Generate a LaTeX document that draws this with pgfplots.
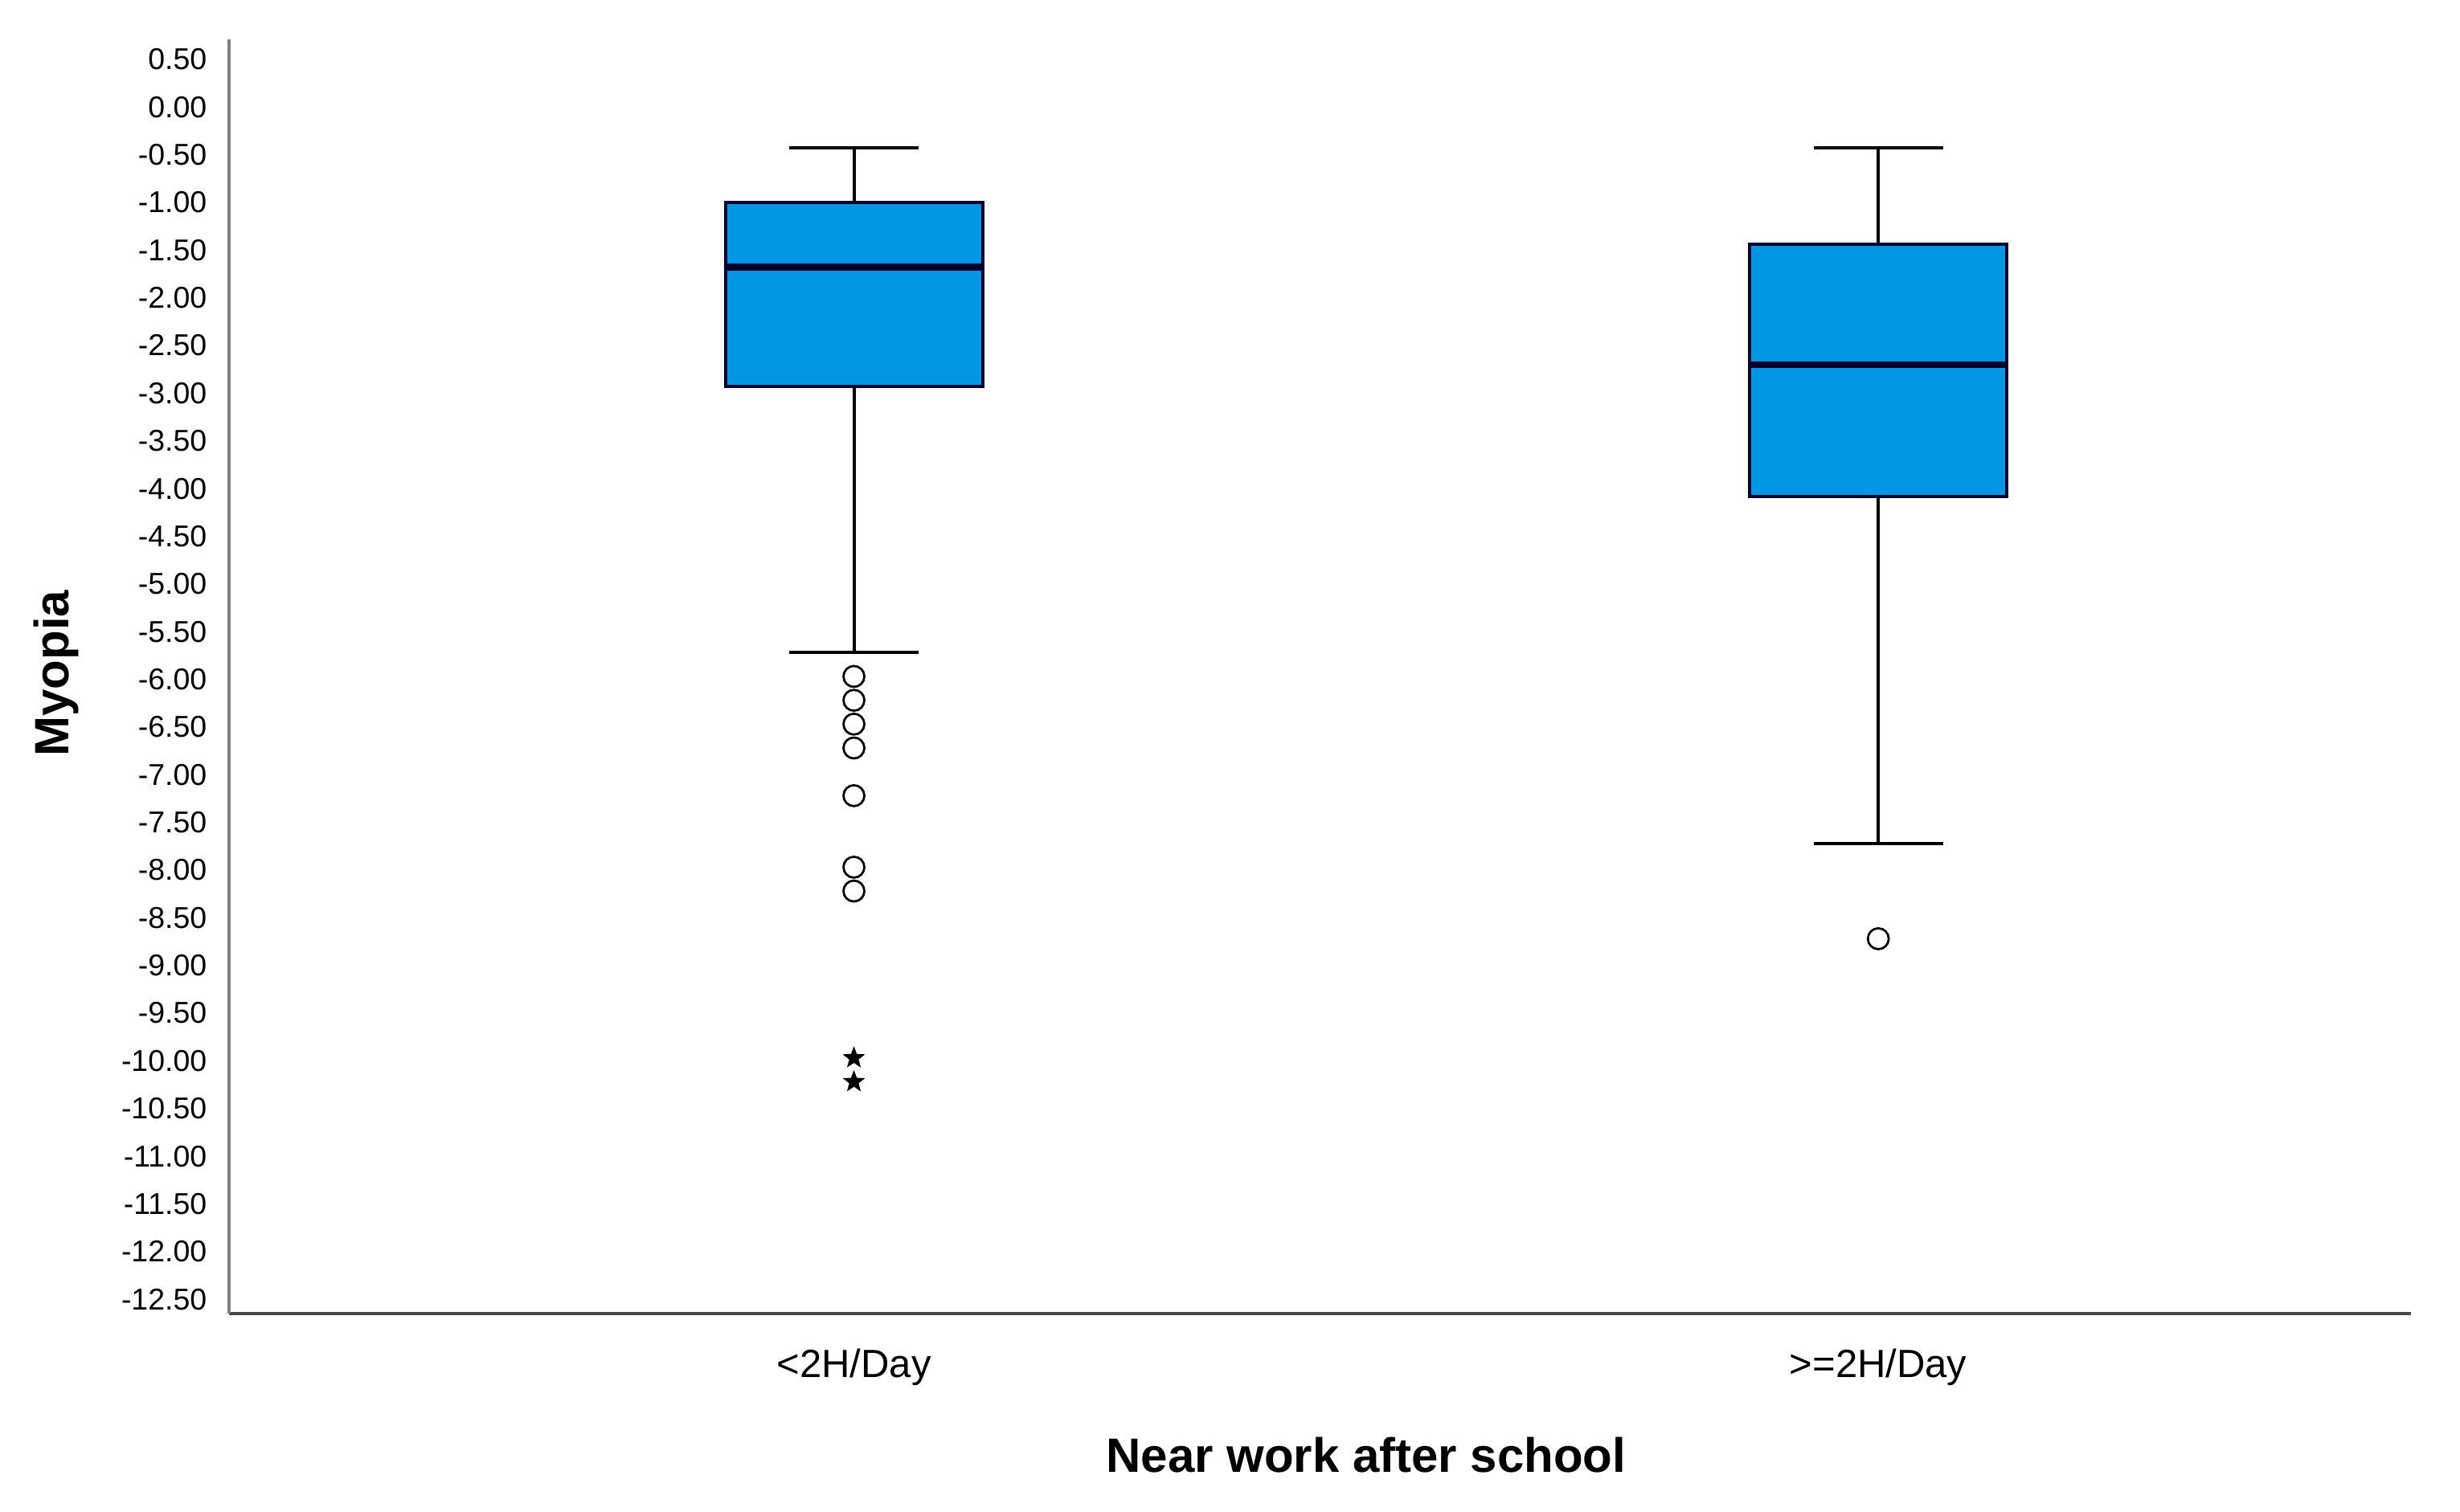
\documentclass[border=0pt]{standalone}
\usepackage{pgfplots}
\pgfplotsset{compat=1.18}
\usepgfplotslibrary{statistics}
\usepackage{fontspec}
\setmainfont{Liberation Sans}
\definecolor{spssblue}{RGB}{0,150,228}
\definecolor{boxnavy}{RGB}{0,0,45}
\pgfdeclareplotmark{fstar}{%
  \pgfpathmoveto{\pgfpointpolar{90}{\pgfplotmarksize}}%
  \pgfpathlineto{\pgfpointpolar{126}{0.42\pgfplotmarksize}}%
  \pgfpathlineto{\pgfpointpolar{162}{\pgfplotmarksize}}%
  \pgfpathlineto{\pgfpointpolar{198}{0.42\pgfplotmarksize}}%
  \pgfpathlineto{\pgfpointpolar{234}{\pgfplotmarksize}}%
  \pgfpathlineto{\pgfpointpolar{270}{0.42\pgfplotmarksize}}%
  \pgfpathlineto{\pgfpointpolar{306}{\pgfplotmarksize}}%
  \pgfpathlineto{\pgfpointpolar{342}{0.42\pgfplotmarksize}}%
  \pgfpathlineto{\pgfpointpolar{18}{\pgfplotmarksize}}%
  \pgfpathlineto{\pgfpointpolar{54}{0.42\pgfplotmarksize}}%
  \pgfpathclose
  \pgfusepathqfillstroke
}
\begin{document}
\begin{tikzpicture}
\begin{axis}[
  at={(0,0)}, anchor=south west,
  scale only axis, width=543pt, height=317.2pt,
  xmin=0.39, xmax=2.52, ymin=-12.65, ymax=0.71,
  boxplot/draw direction=y,
  axis lines*=left,
  x axis line style={draw=black!72, line width=0.7pt},
  y axis line style={draw=black!50, line width=0.9pt},
  major tick length=0pt, minor tick num=0,
  xtick={1,2}, xticklabels={{<2H/Day},{>=2H/Day}},
  ytick={-12.5,-12,...,0.5},
  yticklabels={-12.50,-12.00,-11.50,-11.00,-10.50,-10.00,-9.50,-9.00,-8.50,-8.00,-7.50,-7.00,-6.50,-6.00,-5.50,-5.00,-4.50,-4.00,-3.50,-3.00,-2.50,-2.00,-1.50,-1.00,-0.50,0.00,0.50},
  yticklabel style={font=\fontsize{7.5}{9}\selectfont, anchor=east, xshift=-2pt},
  xticklabel style={font=\fontsize{9.8}{11}\selectfont, anchor=base, yshift=-16pt},
  xlabel={Near work after school},
  ylabel={Myopia},
  xlabel style={font=\fontsize{12}{14}\selectfont\bfseries, at={([yshift=-39.6pt]rel axis cs:0.52113,0)}, anchor=base},
  ylabel style={font=\fontsize{12}{14}\selectfont\bfseries, at={([xshift=-39.8pt]rel axis cs:0,0.5025)}, anchor=base},
  boxplot/every box/.style={fill=spssblue, draw=boxnavy, line width=0.8pt},
  boxplot/every median/.style={draw=boxnavy, line width=1.7pt},
  boxplot/every whisker/.style={draw=black, line width=0.8pt},
]
\addplot[draw=black, solid, mark=none,
  boxplot prepared={lower whisker=-5.72, lower quartile=-2.93, median=-1.68,
    upper quartile=-1.00, upper whisker=-0.43, draw position=1,
    box extend=0.251, whisker extend=0.126}] coordinates {};
\addplot[draw=black, solid, mark=none,
  boxplot prepared={lower whisker=-7.72, lower quartile=-4.08, median=-2.70,
    upper quartile=-1.44, upper whisker=-0.43, draw position=2,
    box extend=0.251, whisker extend=0.126}] coordinates {};
\addplot[only marks, mark=o, mark size=2.6pt, mark options={draw=black, line width=0.55pt, fill=none}]
  coordinates {(1,-5.97) (1,-6.22) (1,-6.47) (1,-6.72) (1,-7.22) (1,-7.97) (1,-8.22) (2,-8.72)};
\addplot[only marks, mark=fstar, mark size=2.5pt, mark options={draw=black, fill=black, line width=0.3pt}]
  coordinates {(1,-9.97) (1,-10.22)};
\end{axis}
\path (-57pt,-49.4pt) rectangle (555.2pt,327pt);
\end{tikzpicture}
\end{document}
